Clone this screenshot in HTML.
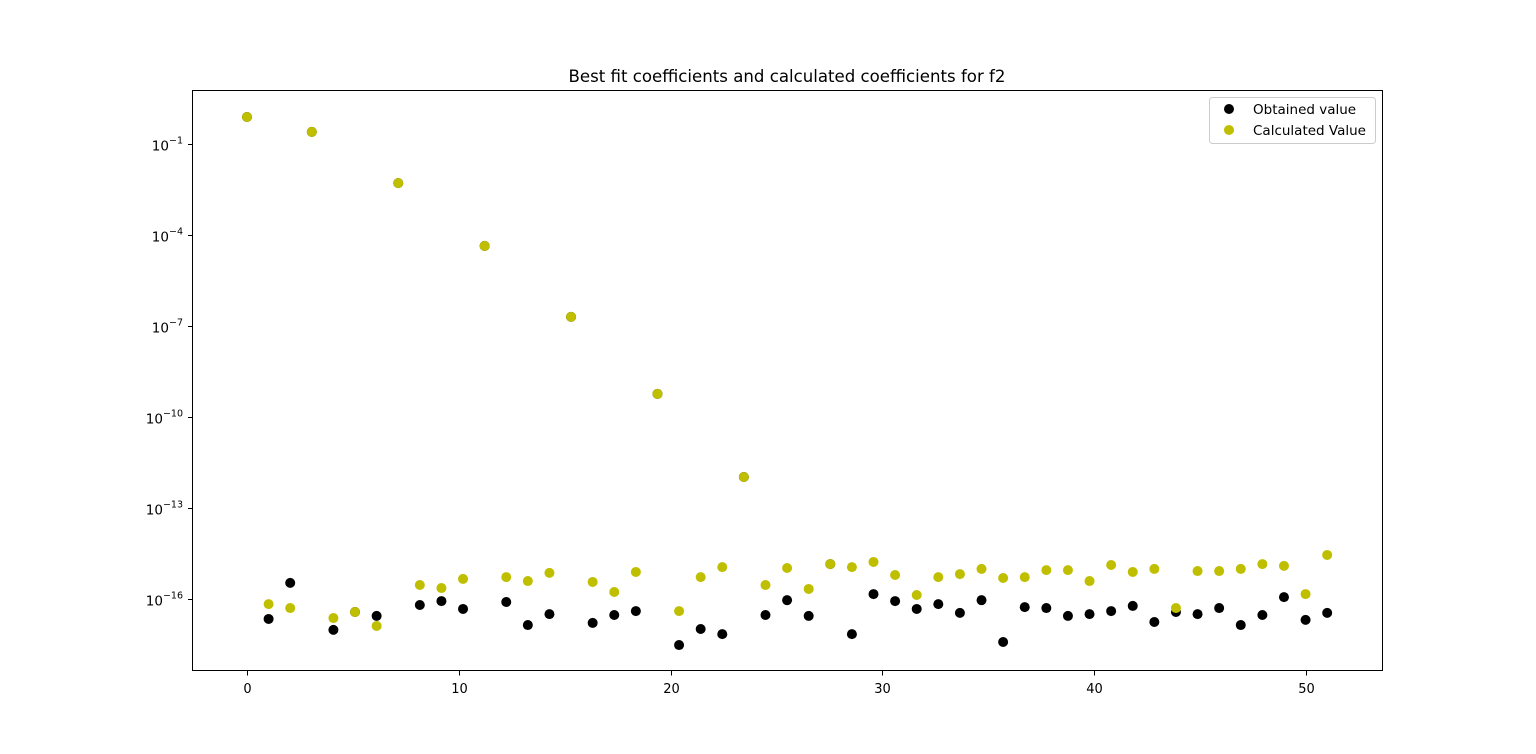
<!DOCTYPE html>
<html><head><meta charset="utf-8"><style>
html,body{margin:0;padding:0;background:#fff;}
svg{display:block;font-family:"DejaVu Sans","Liberation Sans",sans-serif;}
</style></head><body>
<svg id="chart" width="1536" height="754">
<rect width="1536" height="754" fill="#fff"/>
<text x="787" y="82" font-size="16.6" text-anchor="middle">Best fit coefficients and calculated coefficients for f2</text>
<g id="marks"></g>
<g id="axes"></g>
<rect x="192.5" y="90.5" width="1190" height="580" fill="none" stroke="#000" stroke-width="1"/>
<g>
<rect x="1209.5" y="97.5" width="166" height="46" rx="3" fill="#fff" fill-opacity="0.8" stroke="#ccc"/>
<circle cx="1229" cy="109" r="5" fill="#000"/>
<text x="1253" y="114" font-size="13.5">Obtained value</text>
<circle cx="1229" cy="130" r="5" fill="#bfbf00"/>
<text x="1253" y="135" font-size="13.5">Calculated Value</text>
</g>
</svg>
<script>
const xTicks = [0, 10, 20, 30, 40, 50];
const yTickExps = [-1, -4, -7, -10, -13, -16];
const xValues = [0,1.02,2.04,3.06,4.08,5.1,6.12,7.14,8.16,9.18,10.2,11.22,12.24,13.26,14.28,15.3,16.32,17.34,18.36,19.38,20.4,21.42,22.44,23.46,24.48,25.5,26.52,27.54,28.56,29.58,30.6,31.62,32.64,33.66,34.68,35.7,36.72,37.74,38.76,39.78,40.8,41.82,42.84,43.86,44.88,45.9,46.92,47.94,48.96,49.98,51];
const obtainedLog = [-0.11,-16.66,-15.47,-0.6,-17.02,-16.43,-16.56,-2.29,-16.2,-16.07,-16.33,-4.36,-16.1,-16.86,-16.5,-6.7,-16.79,-16.53,-16.4,-9.24,-17.52,-16.99,-17.16,-11.98,-16.53,-16.04,-16.56,-14.85,-17.16,-15.84,-16.07,-16.33,-16.17,-16.46,-16.04,-17.42,-16.27,-16.3,-16.56,-16.5,-16.4,-16.23,-16.76,-16.43,-16.5,-16.3,-16.86,-16.53,-15.94,-16.69,-16.46];
const calculatedLog = [-0.11,-16.17,-16.3,-0.6,-16.63,-16.43,-16.89,-2.29,-15.54,-15.64,-15.34,-4.36,-15.28,-15.41,-15.14,-6.7,-15.44,-15.77,-15.11,-9.24,-16.4,-15.28,-14.95,-11.98,-15.54,-14.98,-15.67,-14.85,-14.95,-14.78,-15.21,-15.87,-15.28,-15.18,-15.01,-15.31,-15.28,-15.05,-15.05,-15.41,-14.88,-15.11,-15.01,-16.3,-15.08,-15.08,-15.01,-14.85,-14.91,-15.84,-14.55];

const X0 = 247, XS = 21.18;
const Y0 = 144, YS = 30.33;
function xPos(v){ return X0 + v*XS; }
function yPos(lg){ return Y0 - (lg + 1)*YS; }
const NS = 'http://www.w3.org/2000/svg';
const marks = document.getElementById('marks');
const axes = document.getElementById('axes');

function drawSeries(vals, color, name){
  vals.forEach((v,i)=>{
    const c = document.createElementNS(NS,'circle');
    c.setAttribute('cx', xPos(xValues[i]));
    c.setAttribute('cy', yPos(v));
    c.setAttribute('r', 5);
    c.setAttribute('fill', color);
    
    
    marks.appendChild(c);
  });
}
drawSeries(obtainedLog, '#000', 'obtained');
drawSeries(calculatedLog, '#bfbf00', 'calculated');

xTicks.forEach(t=>{
  const x = Math.round(xPos(t)) + 0.5;
  const l = document.createElementNS(NS,'line');
  l.setAttribute('x1', x); l.setAttribute('x2', x);
  l.setAttribute('y1', 671); l.setAttribute('y2', 675.5);
  l.setAttribute('stroke', '#000');
  
  
  axes.appendChild(l);
  const tx = document.createElementNS(NS,'text');
  tx.setAttribute('x', x); tx.setAttribute('y', 693);
  tx.setAttribute('font-size', '13');
  tx.setAttribute('text-anchor', 'middle');
  tx.textContent = t;
  
  
  axes.appendChild(tx);
});
yTickExps.forEach(e=>{
  const y = Math.round(yPos(e)) + 0.5;
  const l = document.createElementNS(NS,'line');
  l.setAttribute('x1', 188); l.setAttribute('x2', 192.5);
  l.setAttribute('y1', y); l.setAttribute('y2', y);
  l.setAttribute('stroke', '#000');
  
  
  axes.appendChild(l);
  const tx = document.createElementNS(NS,'text');
  tx.setAttribute('x', 183); tx.setAttribute('y', y + 6);
  tx.setAttribute('font-size', '13.5');
  tx.setAttribute('text-anchor', 'end');
  tx.innerHTML = '10<tspan dy="-7" font-size="9.5">\u2212' + Math.abs(e) + '</tspan>';
  
  
  axes.appendChild(tx);
});
</script>
</body></html>
